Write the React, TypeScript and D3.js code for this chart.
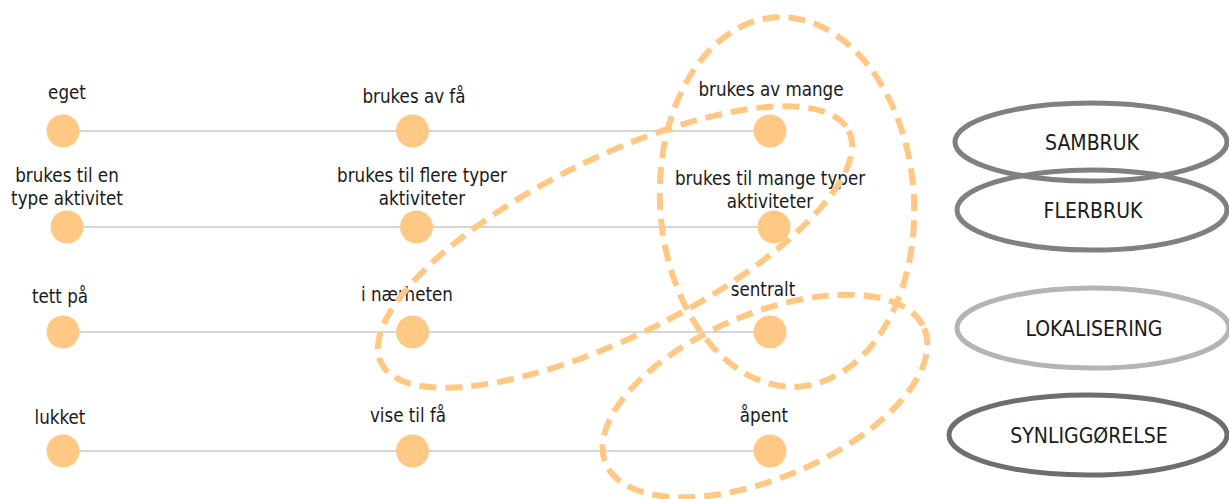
import React from "react";
import * as d3 from "d3";

// ---- data ----
const rowIds = ["bruker", "aktivitet", "lokalisering", "synlighet"];
const levels = ["lav", "middels", "hoy"];
const rowLabels: string[][][] = [
  [["eget"], ["brukes av få"], ["brukes av mange"]],
  [["brukes til en", "type aktivitet"], ["brukes til flere typer", "aktiviteter"], ["brukes til mange typer", "aktiviteter"]],
  [["tett på"], ["i nærheten"], ["sentralt"]],
  [["lukket"], ["vise til få"], ["åpent"]],
];
const categories = ["SAMBRUK", "FLERBRUK", "LOKALISERING", "SYNLIGGØRELSE"];
const categoryColors = ["#808080", "#808080", "#b4b4b4", "#6e6e6e"];

// ---- layout ----
const W = 1229;
const H = 499;
const rowY = [131, 227, 332, 451];
const rowShift = [0, 4, 0, 0];
const labelBase = [
  [99, 103, 96],
  [205, 205, 208],
  [303, 301, 296],
  [424, 422, 422],
];
const labelX = [
  [67, 414, 771],
  [67, 422, 770],
  [60, 407, 763],
  [60, 408, 764],
];
const groupShapes = [
  { cx: 787, cy: 202, rx: 127, ry: 185, rot: -3.5 },
  { cx: 615, cy: 247, rx: 261, ry: 89, rot: -26.4 },
  { cx: 765, cy: 396, rx: 173, ry: 82, rot: -23 },
];
const catShapes = [
  { cx: 1091, cy: 142, rx: 136, ry: 39 },
  { cx: 1092, cy: 210, rx: 135, ry: 40 },
  { cx: 1093, cy: 328, rx: 136, ry: 40 },
  { cx: 1088, cy: 435, rx: 139, ry: 40 },
];

const ORANGE = "#FFC985";
const FONT = "'DejaVu Sans Condensed', 'DejaVu Sans', sans-serif";

export default function App() {
  const x = d3.scalePoint<string>().domain(levels).range([63, 770]);
  const y = d3.scaleOrdinal<string, number>().domain(rowIds).range(rowY);

  return (
    <svg
      width={W}
      height={H}
      style={{ position: "absolute", left: 0, top: 0, background: "#fff" }}
    >
      {rowIds.map((r, i) => {
        const cy = y(r);
        const xs = levels.map((l, j) => (x(l) as number) + rowShift[i] + (j === 1 ? -4 : 0));
        return (
          <g key={r}>
            <line
              x1={xs[0]}
              x2={xs[2]}
              y1={cy}
              y2={cy}
              stroke="#c8c8c8"
              strokeWidth={1.6}
            />
            {xs.map((cx, j) => (
              <circle key={j} cx={cx} cy={cy} r={16.5} fill={ORANGE} />
            ))}
            {rowLabels[i].map((lines, j) => {
              const n = lines.length;
              return (
                <text
                  key={"t" + j}
                  x={labelX[i][j]}
                  y={labelBase[i][j] - (n - 1) * 23}
                  textAnchor="middle"
                  fontFamily={FONT}
                  fontSize={18.6}
                  fill="#1a1a1a"
                >
                  {lines.map((ln, k) => (
                    <tspan key={k} x={labelX[i][j]} dy={k === 0 ? 0 : 23}>
                      {ln}
                    </tspan>
                  ))}
                </text>
              );
            })}
          </g>
        );
      })}

      {groupShapes.map((s, i) => (
        <ellipse
          key={"g" + i}
          cx={0}
          cy={0}
          rx={s.rx}
          ry={s.ry}
          transform={`translate(${s.cx},${s.cy}) rotate(${s.rot})`}
          fill="none"
          stroke={ORANGE}
          strokeWidth={6}
          strokeDasharray="17 9"
        />
      ))}

      {categories.map((c, i) => {
        const s = catShapes[i];
        return (
          <g key={c}>
            <ellipse
              cx={s.cx}
              cy={s.cy}
              rx={s.rx}
              ry={s.ry}
              fill="none"
              stroke={categoryColors[i]}
              strokeWidth={5}
            />
            <text
              x={s.cx + 1}
              y={s.cy + 7.5}
              textAnchor="middle"
              fontFamily={FONT}
              fontSize={21}
              fill="#1a1a1a"
            >
              {c}
            </text>
          </g>
        );
      })}
    </svg>
  );
}
